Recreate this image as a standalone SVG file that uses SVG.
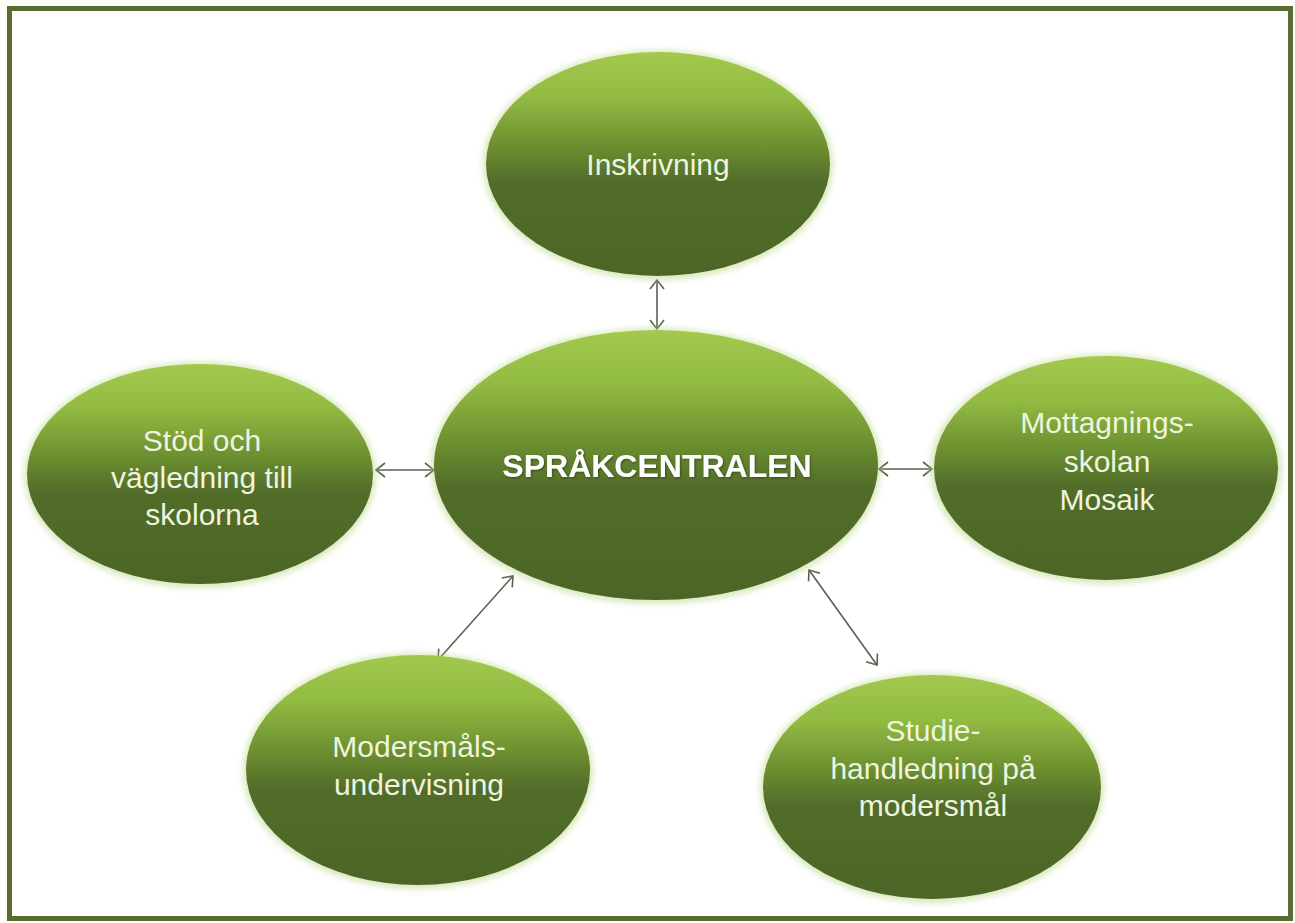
<svg xmlns="http://www.w3.org/2000/svg" width="1295" height="923" viewBox="0 0 1295 923">
  <defs>
    <linearGradient id="g" x1="0" y1="0" x2="0" y2="1">
      <stop offset="0" stop-color="#a2c94e"/>
      <stop offset="0.2" stop-color="#92bb42"/>
      <stop offset="0.42" stop-color="#6c8f30"/>
      <stop offset="0.58" stop-color="#526d29"/>
      <stop offset="1" stop-color="#4c6526"/>
    </linearGradient>
    <filter id="glow" x="-10%" y="-10%" width="120%" height="120%">
      <feGaussianBlur stdDeviation="3"/>
    </filter>
    <filter id="ts" x="-10%" y="-30%" width="120%" height="160%">
      <feDropShadow dx="1" dy="1" stdDeviation="1" flood-color="#2a3a10" flood-opacity="0.7"/>
    </filter>
    <marker id="ah" viewBox="-12 -8 14 16" markerWidth="14" markerHeight="16" refX="0" refY="0" orient="auto-start-reverse" markerUnits="userSpaceOnUse">
      <path d="M-9,-7 L0,0 L-9,7" fill="none" stroke="#5b6150" stroke-width="1.6"/>
    </marker>
  </defs>
  <style>
    .node ellipse.body { fill: url(#g); }
    .node ellipse.halo { fill: #b9d585; opacity: 0.55; filter: url(#glow); }
    .lbl { font-family: "Liberation Sans", Arial, sans-serif; font-size: 30px; fill: #eef4df; text-anchor: middle; }
    .title { font-family: "Liberation Sans", Arial, sans-serif; font-size: 32px; font-weight: bold; fill: #ffffff; text-anchor: middle; filter: url(#ts); }
    .conn line { stroke: #5b6150; stroke-width: 1.6; marker-start: url(#ah); marker-end: url(#ah); }
  </style>
  <rect x="0" y="0" width="1295" height="923" fill="#fffef8"/>
  <rect x="9.5" y="8.5" width="1281" height="910" fill="#ffffff" stroke="#586b32" stroke-width="5"/>

  <g id="connectors" class="conn">
    <line x1="657" y1="280" x2="657" y2="329"/>
    <line x1="376" y1="470" x2="434" y2="470"/>
    <line x1="879" y1="469" x2="932" y2="469"/>
    <line x1="513" y1="576" x2="438" y2="660"/>
    <line x1="809" y1="570" x2="877" y2="665"/>
  </g>

  <g id="node-inskrivning" class="node">
    <ellipse class="halo" cx="658" cy="165" rx="175" ry="115"/>
    <ellipse class="body" cx="658" cy="164" rx="172" ry="112"/>
    <text class="lbl" x="658" y="175">Inskrivning</text>
  </g>

  <g id="node-sprakcentralen" class="node">
    <ellipse class="halo" cx="656" cy="466" rx="225" ry="138"/>
    <ellipse class="body" cx="656" cy="465" rx="222" ry="135"/>
    <text class="title" x="657" y="477">SPRÅKCENTRALEN</text>
  </g>

  <g id="node-stod" class="node">
    <ellipse class="halo" cx="200" cy="475" rx="176" ry="113"/>
    <ellipse class="body" cx="200" cy="474" rx="173" ry="110"/>
    <text class="lbl" x="202" y="451">Stöd och</text>
    <text class="lbl" x="202" y="488">vägledning till</text>
    <text class="lbl" x="202" y="525">skolorna</text>
  </g>

  <g id="node-mottagning" class="node">
    <ellipse class="halo" cx="1106" cy="469" rx="176" ry="115"/>
    <ellipse class="body" cx="1106" cy="468" rx="172" ry="112"/>
    <text class="lbl" x="1107" y="433">Mottagnings-</text>
    <text class="lbl" x="1107" y="472">skolan</text>
    <text class="lbl" x="1107" y="510">Mosaik</text>
  </g>

  <g id="node-modersmal" class="node">
    <ellipse class="halo" cx="418" cy="771" rx="175" ry="118"/>
    <ellipse class="body" cx="418" cy="770" rx="172" ry="115"/>
    <text class="lbl" x="419" y="757">Modersmåls-</text>
    <text class="lbl" x="419" y="795">undervisning</text>
  </g>

  <g id="node-studie" class="node">
    <ellipse class="halo" cx="932" cy="788" rx="172" ry="115"/>
    <ellipse class="body" cx="932" cy="787" rx="169" ry="112"/>
    <text class="lbl" x="933" y="741">Studie-</text>
    <text class="lbl" x="933" y="779">handledning på</text>
    <text class="lbl" x="933" y="816">modersmål</text>
  </g>
</svg>
